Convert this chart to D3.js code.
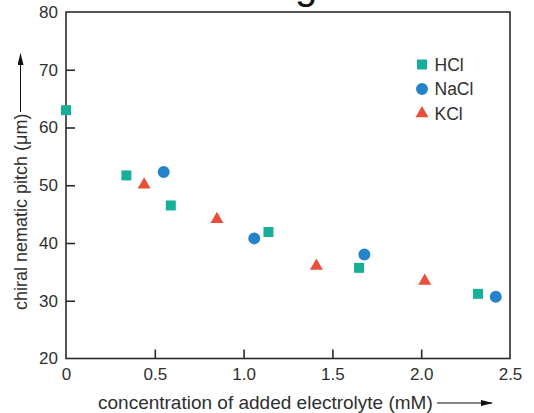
<!DOCTYPE html>
<html>
<head>
<meta charset="utf-8">
<script src="https://cdn.jsdelivr.net/npm/d3@7"></script>
<style>
  html, body { margin: 0; padding: 0; background: #fff; }
  svg { display: block; font-family: "Liberation Sans", Arial, Helvetica, sans-serif; }
</style>
</head>
<body>
<svg id="chart" width="534" height="413"></svg>
<script>
// Pitch of the chiral nematic phase vs. added electrolyte concentration
const hclConc  = [0, 0.34, 0.59, 1.14, 1.65, 2.32];
const hclPitch = [63.0, 51.7, 46.5, 41.9, 35.7, 31.2];

const naclConc  = [0.55, 1.06, 1.68, 2.42];
const naclPitch = [52.3, 40.8, 38.0, 30.7];

const kclConc  = [0.44, 0.85, 1.41, 2.02];
const kclPitch = [50.1, 44.1, 36.0, 33.4];

const xTicks = [0, 0.5, 1.0, 1.5, 2.0, 2.5];
const xTickLabels = ["0", "0.5", "1.0", "1.5", "2.0", "2.5"];
const yTicks = [20, 30, 40, 50, 60, 70, 80];

const seriesNames = ["HCl", "NaCl", "KCl"];
const seriesColors = ["#17af9a", "#2583cb", "#e94f39"];

const svg = d3.select("#chart");
const margin = { left: 66, right: 24, top: 12, bottom: 54.5 };
const W = 534, H = 413;

const x = d3.scaleLinear().domain([0, 2.5]).range([margin.left, W - margin.right]);
const y = d3.scaleLinear().domain([20, 80]).range([H - margin.bottom, margin.top]);

const ink = "#2b2b2b";
const textCol = "#2f2f2f";

// fragment of heading text sitting above the frame
svg.append("text")
  .attr("x", 295).attr("y", -1)
  .attr("font-size", 40)
  .attr("fill", "#111")
  .text("g");

// plot frame
svg.append("rect")
  .attr("x", x(0)).attr("y", y(80))
  .attr("width", x(2.5) - x(0)).attr("height", y(20) - y(80))
  .attr("fill", "none").attr("stroke", ink).attr("stroke-width", 1.6);

// axes with inward ticks
const xAxis = d3.axisBottom(x).tickValues(xTicks)
  .tickFormat((d, i) => xTickLabels[i]).tickSizeInner(-9).tickSizeOuter(0).tickPadding(9);
const gx = svg.append("g").attr("transform", `translate(0,${y(20)})`).call(xAxis);
gx.select(".domain").remove();
gx.selectAll(".tick line").attr("stroke", ink).attr("stroke-width", 1.6);
gx.selectAll(".tick text").attr("font-size", 17).attr("fill", textCol)
  .attr("font-family", "Liberation Sans, Arial, sans-serif");
gx.selectAll(".tick").filter(d => d === 0 || d === 2.5).select("line").remove();

const yAxis = d3.axisLeft(y).tickValues(yTicks).tickSizeInner(-9).tickSizeOuter(0).tickPadding(8);
const gy = svg.append("g").attr("transform", `translate(${x(0)},0)`).call(yAxis);
gy.select(".domain").remove();
gy.selectAll(".tick line").attr("stroke", ink).attr("stroke-width", 1.6);
gy.selectAll(".tick text").attr("font-size", 17).attr("fill", textCol)
  .attr("font-family", "Liberation Sans, Arial, sans-serif");
gy.selectAll(".tick").filter(d => d === 20 || d === 80).select("line").remove();

// axis titles with arrows
svg.append("text")
  .attr("x", 98).attr("y", 408.5)
  .attr("font-size", 19).attr("fill", textCol)
  .text("concentration of added electrolyte (mM)");

const defs = svg.append("defs");
defs.append("marker")
  .attr("id", "arrowhead").attr("viewBox", "0 0 12 6")
  .attr("refX", 11).attr("refY", 3)
  .attr("markerWidth", 12).attr("markerHeight", 6)
  .attr("markerUnits", "userSpaceOnUse")
  .attr("orient", "auto")
  .append("path").attr("d", "M0,0 L12,3 L0,6 Z").attr("fill", "#111");

svg.append("line")
  .attr("x1", 437).attr("y1", 403).attr("x2", 492).attr("y2", 403)
  .attr("stroke", "#111").attr("stroke-width", 1)
  .attr("marker-end", "url(#arrowhead)");

svg.append("text")
  .attr("transform", "translate(27,310) rotate(-90)")
  .attr("font-size", 18).attr("fill", textCol)
  .text("chiral nematic pitch (μm)");

svg.append("line")
  .attr("x1", 20.5).attr("y1", 112).attr("x2", 20.5).attr("y2", 54)
  .attr("stroke", "#111").attr("stroke-width", 1)
  .attr("marker-end", "url(#arrowhead)");

// data markers
const symbols = [
  d3.symbol().type(d3.symbolSquare).size(100),
  d3.symbol().type(d3.symbolCircle).size(113),
  d3.symbol().type(d3.symbolTriangle).size(73)
];
const seriesData = [
  hclConc.map((c, i) => ({ c, p: hclPitch[i] })),
  naclConc.map((c, i) => ({ c, p: naclPitch[i] })),
  kclConc.map((c, i) => ({ c, p: kclPitch[i] }))
];

seriesData.forEach((pts, s) => {
  svg.append("g").selectAll("path")
    .data(pts).join("path")
    .attr("d", symbols[s]())
    .attr("transform", d => `translate(${x(d.c)},${y(d.p)})`)
    .attr("fill", seriesColors[s]);
});

// legend
const legend = svg.append("g").attr("transform", "translate(422,64.5)");
seriesNames.forEach((name, i) => {
  const row = legend.append("g").attr("transform", `translate(0,${i * 24.5})`);
  row.append("path").attr("d", symbols[i]()).attr("fill", seriesColors[i]);
  row.append("text").attr("x", 12.5).attr("y", 6)
    .attr("font-size", 17.5).attr("fill", textCol).text(name);
});
</script>
</body>
</html>
